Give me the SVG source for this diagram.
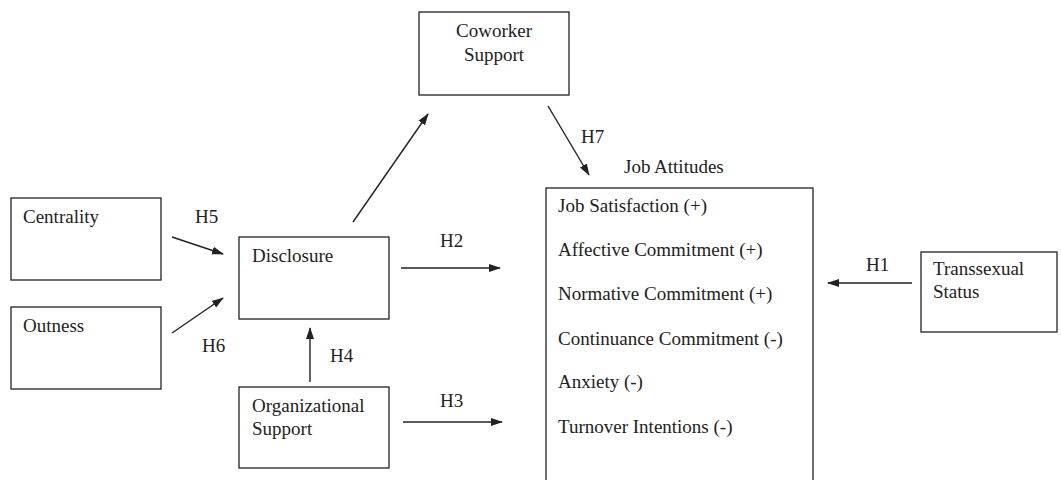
<svg xmlns="http://www.w3.org/2000/svg" width="1061" height="480" viewBox="0 0 1061 480">
<style>
.box{fill:#fff;stroke:#222;stroke-width:1.3}
.t{font-family:"Liberation Serif","Times New Roman",serif;font-size:19px;fill:#222}
.c{stroke:#222;stroke-width:1.4;fill:none;marker-end:url(#ah)}
</style>
<defs>
<marker id="ah" viewBox="0 0 12 10" refX="11" refY="5" markerWidth="12" markerHeight="10" markerUnits="userSpaceOnUse" orient="auto">
<path d="M0,1 L12,5 L0,9 Z" fill="#222"/>
</marker>
</defs>
<rect width="1061" height="480" fill="#fff"/>
<g id="centrality"><rect class="box" x="11" y="198" width="150" height="82"/><text class="t" x="23" y="223">Centrality</text></g>
<g id="outness"><rect class="box" x="11" y="307" width="150" height="82"/><text class="t" x="23" y="332">Outness</text></g>
<g id="disclosure"><rect class="box" x="239" y="237" width="150" height="82"/><text class="t" x="252" y="262">Disclosure</text></g>
<g id="orgsupport"><rect class="box" x="239" y="387" width="150" height="81"/><text class="t" x="252" y="412">Organizational</text><text class="t" x="252" y="435">Support</text></g>
<g id="coworker"><rect class="box" x="419" y="12" width="150" height="83"/><text class="t" x="494" y="37" text-anchor="middle">Coworker</text><text class="t" x="494" y="61" text-anchor="middle">Support</text></g>
<g id="jobattitudes"><text class="t" x="624" y="173">Job Attitudes</text><rect class="box" x="546" y="188" width="267" height="300"/>
<text class="t" x="558" y="212">Job Satisfaction (+)</text>
<text class="t" x="558" y="256">Affective Commitment (+)</text>
<text class="t" x="558" y="300">Normative Commitment (+)</text>
<text class="t" x="558" y="345">Continuance Commitment (-)</text>
<text class="t" x="558" y="388">Anxiety (-)</text>
<text class="t" x="558" y="433">Turnover Intentions (-)</text></g>
<g id="transsexual"><rect class="box" x="921" y="252" width="136" height="80"/><text class="t" x="933" y="275">Transsexual</text><text class="t" x="933" y="298">Status</text></g>
<g id="connectors">
<line class="c" x1="172" y1="237" x2="223" y2="254"/>
<line class="c" x1="172" y1="333" x2="223" y2="298"/>
<line class="c" x1="310" y1="382" x2="310" y2="328"/>
<line class="c" x1="353" y1="222" x2="428" y2="114"/>
<line class="c" x1="548" y1="106" x2="589" y2="175"/>
<line class="c" x1="401" y1="268" x2="500" y2="268"/>
<line class="c" x1="403" y1="422" x2="502" y2="422"/>
<line class="c" x1="912" y1="283" x2="828" y2="283"/>
<text class="t" x="195" y="223">H5</text>
<text class="t" x="202" y="352">H6</text>
<text class="t" x="330" y="362">H4</text>
<text class="t" x="581" y="143">H7</text>
<text class="t" x="440" y="247">H2</text>
<text class="t" x="440" y="407">H3</text>
<text class="t" x="866" y="271">H1</text>
</g>
</svg>
